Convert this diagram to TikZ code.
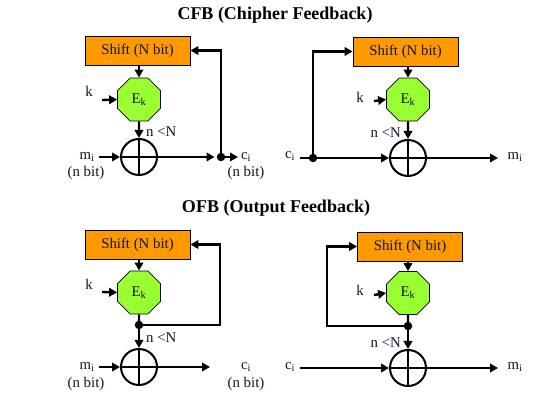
\documentclass[tikz,border=0pt]{standalone}
\usepackage{fontspec}
\setmainfont{Liberation Serif}
\usetikzlibrary{shapes.geometric,arrows.meta}
\definecolor{boxor}{HTML}{FF9900}
\definecolor{encgr}{HTML}{99FF33}
\definecolor{txt}{HTML}{14142E}
\begin{document}
\begin{tikzpicture}[x=1pt,y=-1pt,
  shiftbox/.style={draw=black,line width=0.8pt,fill=boxor,minimum width=105pt,minimum height=29pt,inner sep=0pt,font=\fontsize{14.8}{16}\selectfont,text=txt},
  enc/.style={regular polygon,regular polygon sides=8,draw=black,line width=0.8pt,fill=encgr,minimum size=46.5pt,inner sep=0pt,font=\fontsize{14.8}{16}\selectfont,text=txt},
  xorc/.style={circle,draw=black,line width=2pt,minimum size=36pt,inner sep=0pt,
    path picture={\draw[line width=2.2pt,black] (path picture bounding box.north) -- (path picture bounding box.south) (path picture bounding box.west) -- (path picture bounding box.east);}},
  dotn/.style={circle,fill=black,minimum size=8.5pt,inner sep=0pt},
  lbl/.style={font=\fontsize{14.8}{16}\selectfont,text=txt,inner sep=0pt},
  ttl/.style={font=\fontsize{18}{20}\selectfont\bfseries,text=black,inner sep=0pt},
  ln/.style={line width=2.4pt,black},
  arr/.style={ln,-{Triangle[length=8pt,width=8.5pt]}}
]
\useasboundingbox (0,0) rectangle (541,403);
\fill[white] (0,0) rectangle (541,403);

% ---------- titles ----------
\node[ttl] (t1) at (275,15) {CFB (Chipher Feedback)};
\node[ttl] (t2) at (276,208) {OFB (Output Feedback)};

% ---------- CFB left ----------
\node[shiftbox] (s1) at (137.5,50.5) {Shift (N bit)};
\node[enc] (e1) at (139,99.5) {E\textsubscript{k}};
\node[xorc] (x1) at (139,157) {};
\node[lbl] (k1) at (89,91) {k};
\coordinate (k1s) at (102,100);
\node[lbl,anchor=west] (n1) at (146,132) {n <N};
\node[lbl] (m1) at (87,157) {m\textsubscript{i}};
\node[lbl] (b1) at (86,173) {(n bit)};
\coordinate (m1s) at (99,157);
\node[dotn] (d1) at (221,157) {};
\coordinate (c1e) at (238,157);
\node[lbl] (c1) at (246,157) {c\textsubscript{i}};
\node[lbl] (b2) at (246,173) {(n bit)};
\draw[arr] (e1.north |- s1.south) -- (e1.north);
\draw[arr] (k1s) -- (e1.west);
\draw[arr] (e1.south) -- (x1.north);
\draw[arr] (m1s) -- (x1.west);
\draw[arr,shorten >=2pt] (x1.east) -- (d1.west);
\draw[arr] (d1) -- (c1e);
\draw[arr] (d1.center) |- (s1.east);

% ---------- CFB right ----------
\node[shiftbox] (s2) at (405.5,51.5) {Shift (N bit)};
\node[enc] (e2) at (408,99.5) {E\textsubscript{k}};
\node[xorc] (x2) at (408,158) {};
\node[lbl] (k2) at (360,97) {k};
\coordinate (k2s) at (374,101);
\node[lbl,anchor=east] (n2) at (401,133) {n <N};
\node[lbl] (c2) at (290,156) {c\textsubscript{i}};
\coordinate (c2s) at (300,158);
\node[dotn] (d2) at (313,158) {};
\coordinate (m2e) at (498,158);
\node[lbl] (m2) at (515,157) {m\textsubscript{i}};
\draw[arr] (e2.north |- s2.south) -- (e2.north);
\draw[arr] (k2s) -- (e2.west);
\draw[arr] (e2.south) -- (x2.north);
\draw[ln] (c2s) -- (d2.center);
\draw[arr] (d2.center) -- (x2.west);
\draw[arr] (d2.center) |- (s2.west);
\draw[arr] (x2.east) -- (m2e);

% ---------- OFB left ----------
\node[shiftbox] (s3) at (137.5,244.5) {Shift (N bit)};
\node[enc] (e3) at (139,292.5) {E\textsubscript{k}};
\node[dotn] (d3) at (139,325) {};
\node[xorc] (x3) at (139,367) {};
\node[lbl] (k3) at (89,284) {k};
\coordinate (k3s) at (102,292);
\node[lbl,anchor=west] (n3) at (146,338) {n <N};
\node[lbl] (m3) at (87,367) {m\textsubscript{i}};
\node[lbl] (b3) at (86,384) {(n bit)};
\coordinate (m3s) at (99,367);
\coordinate (f3) at (220,325);
\coordinate (o3) at (210,367);
\node[lbl] (c3) at (246,367) {c\textsubscript{i}};
\node[lbl] (b4) at (246,384) {(n bit)};
\draw[arr] (e3.north |- s3.south) -- (e3.north);
\draw[arr] (k3s) -- (e3.west);
\draw[ln] (e3.south) -- (d3.center);
\draw[arr] (d3.center) -- (x3.north);
\draw[arr] (d3.center) -- (f3) |- (s3.east);
\draw[arr] (m3s) -- (x3.west);
\draw[arr] (x3.east) -- (o3);

% ---------- OFB right ----------
\node[shiftbox] (s4) at (410,246.5) {Shift (N bit)};
\node[enc] (e4) at (408,293) {E\textsubscript{k}};
\node[dotn] (d4) at (408,326) {};
\node[xorc] (x4) at (408,368) {};
\node[lbl] (k4) at (360,290) {k};
\coordinate (k4s) at (374,295);
\node[lbl,anchor=east] (n4) at (401,343) {n <N};
\coordinate (f4) at (327,326);
\node[lbl] (c4) at (290,367) {c\textsubscript{i}};
\coordinate (c4s) at (300,368);
\coordinate (m4e) at (498,368);
\node[lbl] (m4) at (515,367) {m\textsubscript{i}};
\draw[arr] (e4.north |- s4.south) -- (e4.north);
\draw[arr] (k4s) -- (e4.west);
\draw[ln] (e4.south) -- (d4.center);
\draw[arr] (d4.center) -- (x4.north);
\draw[arr] (d4.center) -- (f4) |- (s4.west);
\draw[arr] (c4s) -- (x4.west);
\draw[arr] (x4.east) -- (m4e);
\end{tikzpicture}
\end{document}
